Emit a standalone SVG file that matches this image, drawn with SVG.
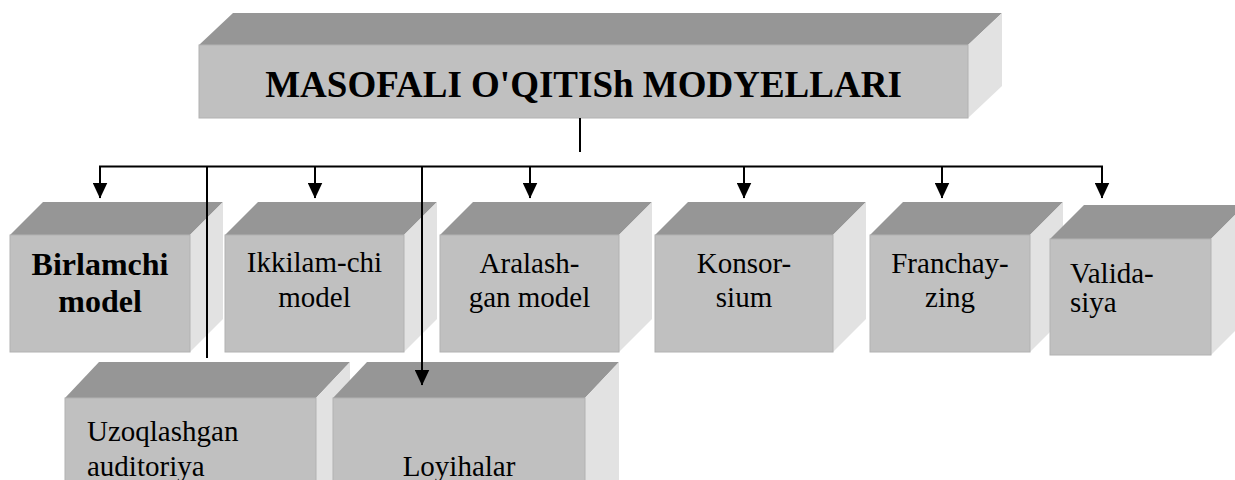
<svg xmlns="http://www.w3.org/2000/svg" width="1235" height="480" viewBox="0 0 1235 480">
<style>
.top{fill:#969696}
.front{fill:#c0c0c0;stroke:#b2b2b2;stroke-width:1}
.side{fill:#e2e2e2}
text{font-family:'Liberation Serif','Times New Roman',Tinos,'DejaVu Serif',serif;fill:#000}
.r{font-size:29px}
.b{font-size:32px;font-weight:bold}
.c{text-anchor:middle}
.ln{stroke:#000;stroke-width:2;fill:none}
</style>
<defs>
<marker id="ah" markerUnits="userSpaceOnUse" markerWidth="16" markerHeight="15" viewBox="0 0 16 15" refX="15.5" refY="7.5" orient="auto">
<path d="M0,0 L16,7.5 L0,15 z" fill="#000"/>
</marker>
</defs>
<rect width="1235" height="480" fill="#fff"/>

<g id="main">
<polygon class="top" points="199,45 233,13 1002,13 968,45"/>
<polygon class="side" points="968,45 1002,13 1002,86 968,118"/>
<rect class="front" x="199" y="45" width="769" height="73"/>
<text class="c" x="583.5" y="97" font-family="Liberation Serif, serif" style="font-size:37px;font-weight:bold">MASOFALI O'QITISh MODYELLARI</text>
</g>

<g id="birlamchi">
<polygon class="top" points="10,235 43,202 223,202 190,235"/>
<polygon class="side" points="190,235 223,202 223,319 190,352"/>
<rect class="front" x="10" y="235" width="180" height="117"/>
<text class="b c" x="100" y="275">Birlamchi</text>
<text class="b c" x="100" y="312">model</text>
</g>

<g id="ikkilamchi">
<polygon class="top" points="225,235 258,202 437,202 404,235"/>
<polygon class="side" points="404,235 437,202 437,319 404,352"/>
<rect class="front" x="225" y="235" width="179" height="117"/>
<text class="r c" x="314.5" y="272">Ikkilam-chi</text>
<text class="r c" x="314.5" y="307">model</text>
</g>

<g id="aralashgan">
<polygon class="top" points="440,235 473,202 652,202 619,235"/>
<polygon class="side" points="619,235 652,202 652,319 619,352"/>
<rect class="front" x="440" y="235" width="179" height="117"/>
<text class="r c" x="529.5" y="273">Aralash-</text>
<text class="r c" x="529.5" y="307">gan model</text>
</g>

<g id="konsorsium">
<polygon class="top" points="655,235 688,202 866,202 833,235"/>
<polygon class="side" points="833,235 866,202 866,319 833,352"/>
<rect class="front" x="655" y="235" width="178" height="117"/>
<text class="r c" x="744" y="273">Konsor-</text>
<text class="r c" x="744" y="307">sium</text>
</g>

<g id="franchayzing">
<polygon class="top" points="870,235 903,202 1063,202 1030,235"/>
<polygon class="side" points="1030,235 1063,202 1063,319 1030,352"/>
<rect class="front" x="870" y="235" width="160" height="117"/>
<text class="r c" x="950" y="273">Franchay-</text>
<text class="r c" x="950" y="307">zing</text>
</g>

<g id="validasiya">
<polygon class="top" points="1050,239 1084,205 1245,205 1211,239"/>
<polygon class="side" points="1211,239 1245,205 1245,321 1211,355"/>
<rect class="front" x="1050" y="239" width="161" height="116"/>
<text class="r" x="1070" y="283">Valida-</text>
<text class="r" x="1070" y="312">siya</text>
</g>

<g id="uzoqlashgan">
<polygon class="top" points="65,398 99,362 350,362 316,398"/>
<polygon class="side" points="316,398 350,362 350,490 316,490"/>
<rect class="front" x="65" y="398" width="251" height="95"/>
<text class="r" x="87" y="441">Uzoqlashgan</text>
<text class="r" x="87" y="476">auditoriya</text>
</g>

<g id="loyihalar">
<polygon class="top" points="333,398 367,362 619,362 585,398"/>
<polygon class="side" points="585,398 619,362 619,490 585,490"/>
<rect class="front" x="333" y="398" width="252" height="95"/>
<text class="r c" x="459" y="476">Loyihalar</text>
</g>

<g id="connectors">
<path class="ln" d="M580,118 V152"/>
<path class="ln" d="M99,166.5 H1103"/>
<path class="ln" d="M100,166 V198" marker-end="url(#ah)"/>
<path class="ln" d="M315,166 V198" marker-end="url(#ah)"/>
<path class="ln" d="M530,166 V198" marker-end="url(#ah)"/>
<path class="ln" d="M744,166 V198" marker-end="url(#ah)"/>
<path class="ln" d="M942,166 V198" marker-end="url(#ah)"/>
<path class="ln" d="M1102,166 V198" marker-end="url(#ah)"/>
<path class="ln" d="M207,166 V358"/>
<path class="ln" d="M422,166 V385" marker-end="url(#ah)"/>
</g>
</svg>
